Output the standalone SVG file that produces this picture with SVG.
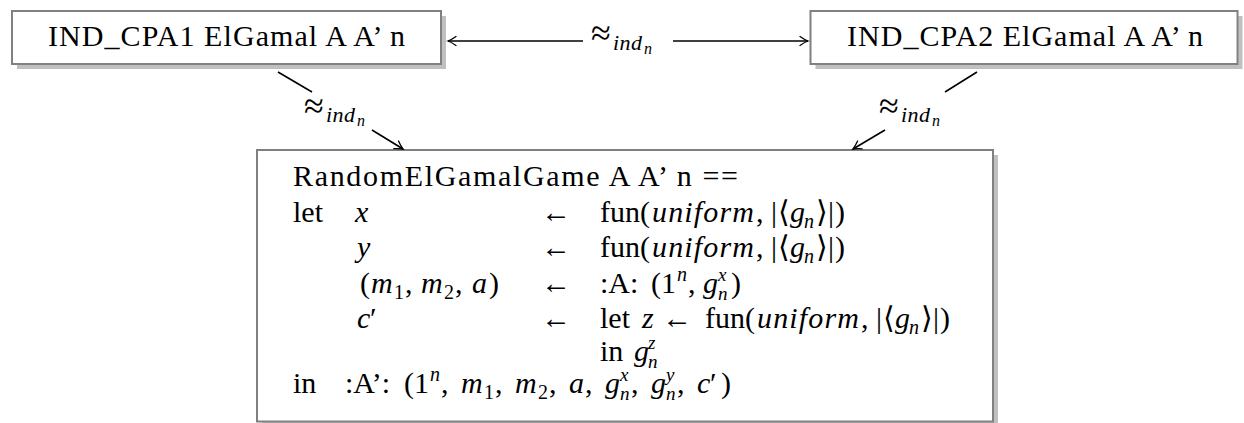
<svg xmlns="http://www.w3.org/2000/svg" width="1244" height="423" viewBox="0 0 1244 423">
<defs>
<marker id="arr" viewBox="-10 -6 12 12" refX="0" refY="0" markerWidth="12" markerHeight="12" markerUnits="userSpaceOnUse" orient="auto">
<path d="M-8,-4.5 Q-3,-1 0,0 Q-3,1 -8,4.5" fill="none" stroke="#000" stroke-width="1.3" stroke-linecap="round"/>
</marker>
<style>
.shadow{fill:#c0c0c0}
.box{fill:#fff;stroke:#808080;stroke-width:2}
.t{font-family:"Liberation Serif","DejaVu Serif",serif;font-size:30px;fill:#000}
.i{font-style:italic}
.s{font-size:20px}
.k{font-size:19px;font-style:italic}
.ap{font-size:36px}
.sub{font-size:22px;font-style:italic;letter-spacing:0.5px}
.ss{font-size:16px;font-style:italic}
.conn{stroke:#000;stroke-width:1.6;fill:none}
</style>
</defs>
<rect width="1244" height="423" fill="#fff"/>

<g id="cpa1">
<rect class="shadow" x="17" y="16" width="429" height="53"/>
<rect class="box" x="12" y="11" width="429" height="53"/>
<text class="t" x="48" y="46" textLength="357" lengthAdjust="spacing">IND_CPA1 ElGamal A A’ n</text>
</g>

<g id="cpa2">
<rect class="shadow" x="815.5" y="16" width="427" height="53"/>
<rect class="box" x="810.5" y="11" width="427" height="53"/>
<text class="t" x="847" y="46" textLength="356" lengthAdjust="spacing">IND_CPA2 ElGamal A A’ n</text>
</g>

<g id="game">
<rect class="shadow" x="262" y="155" width="736" height="272"/>
<rect class="box" x="257" y="150" width="736" height="271.5"/>
<text class="t" x="293" y="186" textLength="445" lengthAdjust="spacing">RandomElGamalGame A A’ n ==</text>
<text class="t" y="222"><tspan x="293">let</tspan><tspan x="355" class="i">x</tspan><tspan x="541">←</tspan><tspan x="600">fun(</tspan><tspan x="652" class="i" textLength="102" lengthAdjust="spacing">uniform</tspan><tspan x="756">,</tspan><tspan x="771">|</tspan><tspan x="778">⟨</tspan><tspan x="790" class="i">g</tspan><tspan x="804" y="228" class="s i">n</tspan><tspan x="816" y="222">⟩</tspan><tspan x="828">|</tspan><tspan x="835">)</tspan></text>
<text class="t" y="257"><tspan x="357" class="i">y</tspan><tspan x="541">←</tspan><tspan x="600">fun(</tspan><tspan x="652" class="i" textLength="102" lengthAdjust="spacing">uniform</tspan><tspan x="756">,</tspan><tspan x="771">|</tspan><tspan x="778">⟨</tspan><tspan x="790" class="i">g</tspan><tspan x="804" y="263" class="s i">n</tspan><tspan x="816" y="257">⟩</tspan><tspan x="828">|</tspan><tspan x="835">)</tspan></text>
<text class="t" y="293"><tspan x="360">(</tspan><tspan x="371" class="i">m</tspan><tspan x="394" y="299" class="s">1</tspan><tspan x="405" y="293">,</tspan><tspan x="421" class="i">m</tspan><tspan x="444" y="299" class="s">2</tspan><tspan x="455" y="293">,</tspan><tspan x="472" class="i">a</tspan><tspan x="489">)</tspan><tspan x="541">←</tspan><tspan x="600">:A:</tspan><tspan x="651">(1</tspan><tspan x="677" y="281" class="s i">n</tspan><tspan x="688" y="293">,</tspan><tspan x="703" class="i">g</tspan><tspan x="718" y="300" class="k">n</tspan><tspan x="718" y="281" class="k">x</tspan><tspan x="731" y="293">)</tspan></text>
<text class="t" y="328"><tspan x="357" class="i">c</tspan><tspan x="370">′</tspan><tspan x="541">←</tspan><tspan x="600">let</tspan><tspan x="642" class="i">z</tspan><tspan x="662">←</tspan><tspan x="705">fun(</tspan><tspan x="757" class="i" textLength="102" lengthAdjust="spacing">uniform</tspan><tspan x="861">,</tspan><tspan x="876">|</tspan><tspan x="883">⟨</tspan><tspan x="895" class="i">g</tspan><tspan x="909" y="334" class="s i">n</tspan><tspan x="921" y="328">⟩</tspan><tspan x="933">|</tspan><tspan x="940">)</tspan></text>
<text class="t" y="361"><tspan x="600">in</tspan><tspan x="634" class="i">g</tspan><tspan x="648" y="368" class="k">n</tspan><tspan x="648" y="349" class="k">z</tspan></text>
<text class="t" y="393"><tspan x="293">in</tspan><tspan x="345">:A’:</tspan><tspan x="404">(1</tspan><tspan x="430" y="381" class="s i">n</tspan><tspan x="441" y="393">,</tspan><tspan x="461" class="i">m</tspan><tspan x="484" y="399" class="s">1</tspan><tspan x="495" y="393">,</tspan><tspan x="515" class="i">m</tspan><tspan x="538" y="399" class="s">2</tspan><tspan x="549" y="393">,</tspan><tspan x="569" class="i">a</tspan><tspan x="585">,</tspan><tspan x="605" class="i">g</tspan><tspan x="620" y="400" class="k">n</tspan><tspan x="620" y="381" class="k">x</tspan><tspan x="631" y="393">,</tspan><tspan x="651" class="i">g</tspan><tspan x="666" y="400" class="k">n</tspan><tspan x="666" y="381" class="k">y</tspan><tspan x="677" y="393">,</tspan><tspan x="697" class="i">c</tspan><tspan x="710">′</tspan><tspan x="721">)</tspan></text>
</g>

<g id="connectors">
<line class="conn" x1="583" y1="41" x2="448" y2="41" marker-end="url(#arr)"/>
<line class="conn" x1="673" y1="41" x2="808" y2="41" marker-end="url(#arr)"/>
<text class="t"><tspan x="591" y="45" class="ap">≈</tspan><tspan x="613" y="50" class="sub">ind</tspan><tspan x="644" y="54" class="ss">n</tspan></text>
<line class="conn" x1="278" y1="72" x2="312" y2="92"/>
<line class="conn" x1="372" y1="130" x2="403" y2="149" marker-end="url(#arr)"/>
<text class="t"><tspan x="304" y="118" class="ap">≈</tspan><tspan x="326" y="122" class="sub">ind</tspan><tspan x="357" y="126" class="ss">n</tspan></text>
<line class="conn" x1="977" y1="72" x2="945" y2="92"/>
<line class="conn" x1="885" y1="130" x2="853" y2="149" marker-end="url(#arr)"/>
<text class="t"><tspan x="879" y="118" class="ap">≈</tspan><tspan x="901" y="122" class="sub">ind</tspan><tspan x="932" y="126" class="ss">n</tspan></text>
</g>
</svg>
